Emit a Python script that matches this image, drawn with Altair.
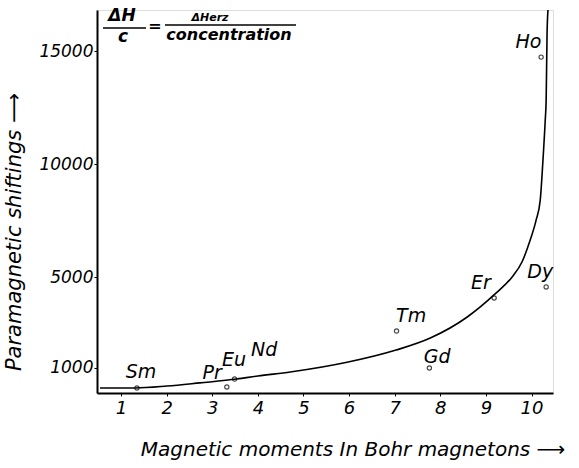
import altair as alt
import pandas as pd

# Smooth fitted curve
curve_x = [0.54, 1.31, 2.01, 2.73, 3.54, 4.00, 4.71, 5.98, 7.03, 7.78, 8.59, 9.20, 9.57,
           9.79, 9.97, 10.10, 10.19, 10.25, 10.30, 10.32, 10.34, 10.36]
curve_y = [115, 115, 200, 340, 510, 645, 820, 1260, 1790, 2320, 3250, 4270, 5010,
           5680, 6650, 7530, 8410, 10180, 11950, 12830, 15790, 16810]

# Measured points
point_name = ["Sm", "Pr", "Eu", "Tm", "Gd", "Er", "Dy", "Ho"]
point_x = [1.35, 3.32, 3.49, 7.04, 7.76, 9.18, 10.32, 10.21]
point_y = [115, 160, 510, 2630, 1000, 4090, 4580, 14730]

# Element labels
label_text = ["Sm", "Pr", "Eu", "Nd", "Tm", "Gd", "Er", "Dy", "Ho"]
label_x = [1.44, 3.00, 3.48, 4.14, 7.36, 7.93, 8.89, 10.19, 9.93]
label_y = [820, 780, 1350, 1800, 3300, 1480, 4750, 5230, 15400]

x_ticks = [1, 2, 3, 4, 5, 6, 7, 8, 9, 10]
y_ticks = [1000, 5000, 10000, 15000]

FONT = "DejaVu Sans"

xs = alt.Scale(domain=[0.474, 10.47], nice=False, zero=False)
ys = alt.Scale(domain=[-106, 16811], nice=False, zero=False)

curve_df = pd.DataFrame({"x": curve_x, "y": curve_y})
pts_df = pd.DataFrame({"name": point_name, "x": point_x, "y": point_y})
lab_df = pd.DataFrame({"t": label_text, "x": label_x, "y": label_y})

xaxis = alt.Axis(values=x_ticks, title=None, grid=False, labelFont=FONT, labelFontStyle="italic",
                 labelFontSize=18, labelColor="black", domainColor="black", domainWidth=2,
                 tickColor="black", tickSize=3, labelPadding=3)
yaxis = alt.Axis(values=y_ticks, title=None, grid=False, labelFont=FONT, labelFontStyle="italic",
                 labelFontSize=17, labelColor="black", domainColor="black", domainWidth=2,
                 tickColor="black", tickSize=3, labelPadding=1, format="d")

line = alt.Chart(curve_df).mark_line(interpolate="monotone", color="black", strokeWidth=1.6).encode(
    x=alt.X("x:Q", scale=xs, axis=xaxis),
    y=alt.Y("y:Q", scale=ys, axis=yaxis),
)

pts = alt.Chart(pts_df).mark_point(shape="circle", size=18, color="black", strokeWidth=1.2, filled=False).encode(
    x=alt.X("x:Q", scale=xs),
    y=alt.Y("y:Q", scale=ys),
)

labels = alt.Chart(lab_df).mark_text(font=FONT, fontStyle="italic", fontSize=19, color="black").encode(
    x=alt.X("x:Q", scale=xs),
    y=alt.Y("y:Q", scale=ys),
    text="t:N",
)

one = pd.DataFrame({"a": [0]})

def txt(s, x, y, size, angle=0):
    return alt.Chart(one).mark_text(font=FONT, fontStyle="italic", fontWeight="bold", fontSize=size,
                                    color="black", angle=angle, baseline="middle").encode(
        x=alt.value(x), y=alt.value(y), text=alt.value(s))

def txtn(s, x, y, size, angle=0):
    return alt.Chart(one).mark_text(font=FONT, fontStyle="italic", fontSize=size,
                                    color="black", angle=angle, baseline="middle").encode(
        x=alt.value(x), y=alt.value(y), text=alt.value(s))

def bar(x1, x2, y):
    return alt.Chart(one).mark_rule(color="black", strokeWidth=1.6).encode(
        x=alt.value(x1), x2=alt.value(x2), y=alt.value(y))

formula = (txt("ΔH", 25, 6, 17) + bar(6, 49, 18) + txt("c", 26, 27, 17) + txt("=", 58, 16, 16)
           + txt("ΔHerz", 113, 8, 11) + bar(68, 199, 15) + txt("concentration", 132, 25, 16))

titles = (txtn("Paramagnetic shiftings ⟶", -82, 222, 21, angle=270)
          + txtn("Magnetic moments In Bohr magnetons ⟶", 256, 440, 20))

chart = alt.layer(line, pts, labels, formula, titles).properties(
    width=456, height=383,
    autosize=alt.AutoSizeParams(type="none"),
    padding={"left": 97, "top": 10, "right": 26, "bottom": 75},
).configure_view(stroke=None).configure(background="white")

chart.save("out.html", embed_options={"renderer": "svg", "actions": False})
